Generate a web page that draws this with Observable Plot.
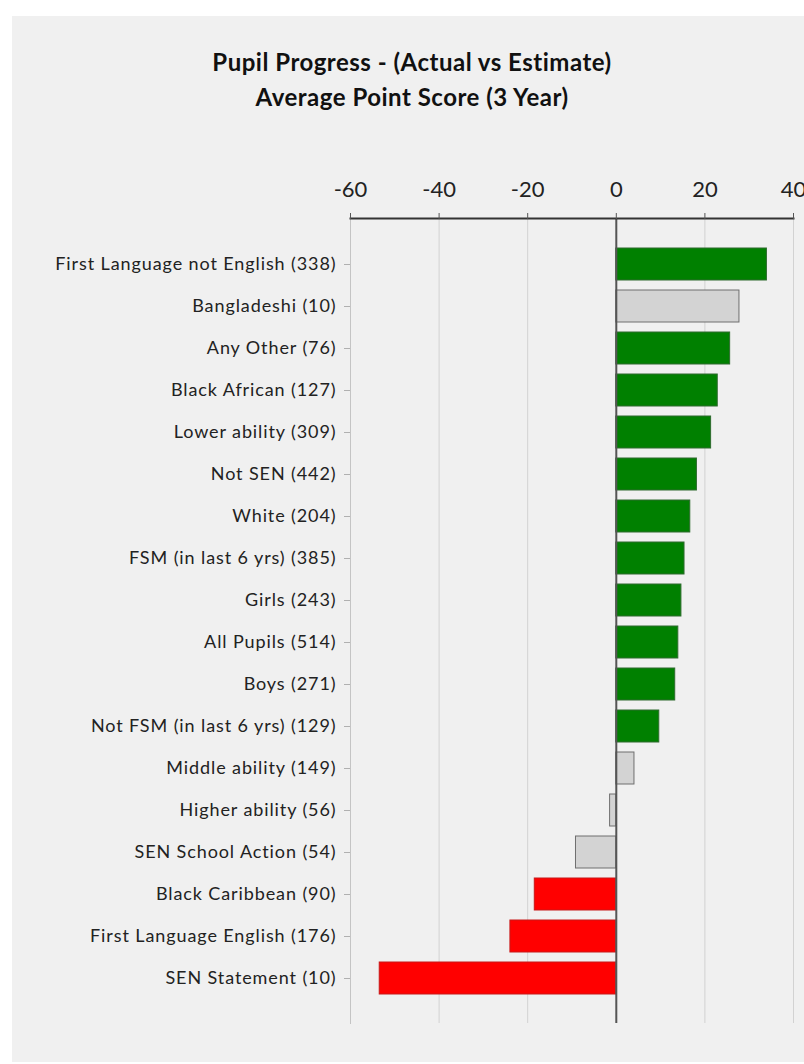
<!DOCTYPE html>
<html>
<head>
<meta charset="utf-8">
<script src="https://cdn.jsdelivr.net/npm/d3@7"></script>
<script src="https://cdn.jsdelivr.net/npm/@observablehq/plot@0.6"></script>
<style>
  html, body { margin: 0; padding: 0; background: #ffffff; width: 804px; height: 1064px; overflow: hidden; }
  #panel { position: absolute; left: 12px; top: 16px; width: 800px; height: 1046px; background: #f0f0f0; }
  .title { position: absolute; left: 0; width: 800px; text-align: center; font-family: Lato, "Open Sans", sans-serif; font-weight: bold; font-size: 24px; letter-spacing: 0.5px; color: #111; line-height: 30px; }
  #chart { position: absolute; left: 0; top: 114px; }
</style>
</head>
<body>
<div id="panel">
  <div class="title" style="top:31px">Pupil Progress - (Actual vs Estimate)</div>
  <div class="title" style="top:66px">Average Point Score (3 Year)</div>
  <div id="chart"></div>
</div>
<script>
const labels = [
  "First Language not English (338)",
  "Bangladeshi (10)",
  "Any Other (76)",
  "Black African (127)",
  "Lower ability (309)",
  "Not SEN (442)",
  "White (204)",
  "FSM (in last 6 yrs) (385)",
  "Girls (243)",
  "All Pupils (514)",
  "Boys (271)",
  "Not FSM (in last 6 yrs) (129)",
  "Middle ability (149)",
  "Higher ability (56)",
  "SEN School Action (54)",
  "Black Caribbean (90)",
  "First Language English (176)",
  "SEN Statement (10)"
];
const values = [34.0, 27.8, 25.7, 22.9, 21.4, 18.2, 16.7, 15.4, 14.7, 14.0, 13.3, 9.7, 4.1, -1.4, -9.1, -18.4, -23.9, -53.4];
const status = ["above","neutral","above","above","above","above","above","above","above","above","above","above","neutral","neutral","neutral","below","below","below"];
const xTicks = [-60, -40, -20, 0, 20, 40];

const fillColors = { above: "#008000", neutral: "#d3d3d3", below: "#ff0000" };
const strokeColors = { above: "#2e6b2e", neutral: "#6f6f6f", below: "#c81818" };

const data = labels.map((label, i) => ({ label, value: values[i], status: status[i] }));

const chart = Plot.plot({
  width: 792,
  height: 897,
  marginTop: 88,
  marginBottom: 4,
  marginLeft: 338,
  marginRight: 11,
  style: { background: "transparent", fontFamily: "Lato, 'Open Sans', sans-serif", color: "#222", overflow: "visible" },
  x: { domain: [-60, 40], axis: null, label: null },
  y: { domain: labels, axis: null, label: null, paddingInner: 0.24, paddingOuter: 0.65 },
  marks: [
    Plot.gridX(xTicks, { stroke: "#d2d2d2", strokeOpacity: 1 }),
    Plot.frame({ anchor: "left", stroke: "#c4c4c4" }),
    Plot.barX(data, {
      x: "value", y: "label",
      fill: d => fillColors[d.status],
      stroke: d => strokeColors[d.status],
      strokeWidth: 1
    }),
    Plot.ruleX([0], { stroke: "#555", strokeWidth: 2 }),
    Plot.frame({ anchor: "top", stroke: "#333", strokeWidth: 2 }),
    Plot.axisX({ anchor: "top", label: null, ticks: xTicks, tickSize: 6, tickPadding: 16, fontSize: 22, tickFormat: d => String(d), stroke: "#555", fill: "#222" }),
    Plot.axisY({ label: null, tickSize: 6, text: null, stroke: "#b0b0b0" }),
    Plot.axisY({ label: null, tickSize: 0, tickPadding: 14, fontSize: 18, fill: "#222" })
  ]
});
d3.select(chart).selectAll('g[aria-label="y-axis tick label"] text').attr("letter-spacing", "0.9px");
document.getElementById("chart").appendChild(chart);
</script>
</body>
</html>
